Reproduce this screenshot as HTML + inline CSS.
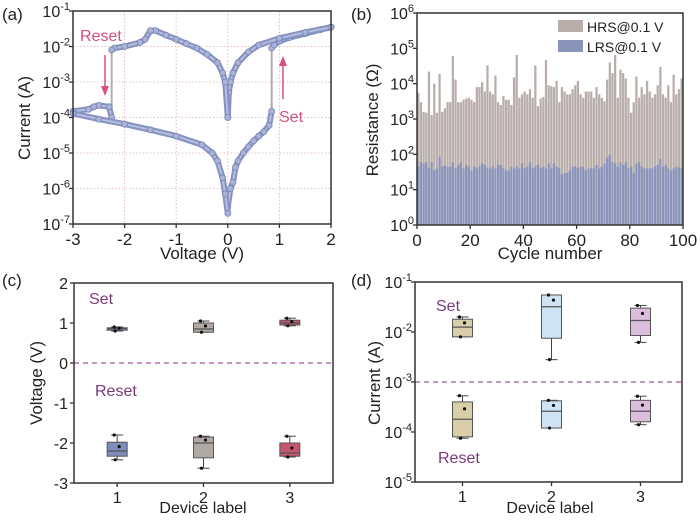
<!DOCTYPE html>
<html><head><meta charset="utf-8"><style>
html,body{margin:0;padding:0;background:#fff;}
svg{display:block;font-family:"Liberation Sans",sans-serif;}
</style></head><body>
<svg id="fig" width="700" height="520" viewBox="0 0 700 520" xmlns="http://www.w3.org/2000/svg"></svg>
<script>
// ---------- Panel (a) data ----------
const aSeg1V=[0.0,0.05,0.1,0.15,0.2,0.3,0.4,0.5,0.6,0.7,0.8,0.85];
const aSeg1I=[3e-7,1e-6,1.5e-6,4e-6,6e-6,1e-5,1.5e-5,2.2e-5,3e-5,4e-5,6e-5,1.5e-4];
const aSeg2V=[0.85,0.9,1.0,1.2,1.5,1.8,2.0];
const aSeg2I=[9e-3,1.1e-2,1.4e-2,1.8e-2,2.3e-2,3e-2,3.5e-2];
const aSeg3V=[2.0,1.5,1.0,0.6,0.4,0.2,0.1,0.05,0.02,0.0];
const aSeg3I=[3.5e-2,2.5e-2,1.7e-2,1.1e-2,7e-3,3.5e-3,1.8e-3,1e-3,5e-4,1e-4];
const aSeg4V=[0.0,-0.05,-0.1,-0.2,-0.4,-0.6,-0.8,-1.0,-1.2,-1.4,-1.5,-1.6,-1.7,-2.0,-2.2,-2.25];
const aSeg4I=[1e-4,1e-3,1.8e-3,3.5e-3,6e-3,9e-3,1.2e-2,1.6e-2,2.1e-2,2.8e-2,2.8e-2,1.6e-2,1.3e-2,1e-2,9e-3,8e-3];
const aSeg5V=[-2.25,-2.3,-2.5,-2.6,-2.7,-3.0];
const aSeg5I=[1e-4,2e-4,2.2e-4,2e-4,1.7e-4,1.5e-4];
const aSeg6V=[-3.0,-2.5,-2.0,-1.5,-1.0,-0.5,-0.3,-0.2,-0.1,-0.05,0.0];
const aSeg6I=[1.3e-4,9e-5,6.5e-5,4.5e-5,3e-5,1.7e-5,1e-5,6e-6,2e-6,7e-7,2e-7];
const aXTicks=[-3,-2,-1,0,1,2];
const aYExp=[-1,-2,-3,-4,-5,-6,-7];
// ---------- Panel (b) data ----------
const bHRS=[5500,3000,1600,1500,22000,1300,10000,1500,19000,1600,2000,3000,3000,60000,13000,3000,3000,3500,3800,4000,3500,3000,8000,8000,11000,6000,33000,6000,5000,17000,3000,2500,4500,3500,3500,2500,15000,65000,4000,5000,6000,5000,7000,4000,33000,2300,3800,4200,47000,9000,8500,8000,12000,3000,8000,6000,5000,5000,7000,9000,12000,5000,4000,6000,6000,6000,4000,8000,5000,4000,3200,13000,40000,20000,65000,4000,25000,20000,14000,4000,1500,3000,16000,4000,8000,5000,12000,6000,4000,5000,9000,30000,5000,4000,9000,3000,18000,5000,7000,14000];
const bLRS=[45,60,55,60,40,60,35,40,85,45,48,45,45,60,40,50,60,40,50,45,35,45,40,45,55,50,42,40,45,40,50,50,40,35,35,45,40,45,40,55,40,45,60,40,45,50,40,45,40,55,40,55,45,40,27,30,30,35,45,45,40,45,45,35,40,40,40,50,40,45,55,80,95,60,55,45,60,50,60,40,45,30,55,60,45,40,40,40,40,45,50,75,45,50,40,35,40,45,42,40];
const bXTicks=[0,20,40,60,80,100];
const bYExp=[0,1,2,3,4,5,6];
// ---------- Panel (c) data ----------
const cDevices=[1,2,3];
const cSetQ1=[0.82,0.77,0.95], cSetMed=[0.86,0.85,1.0], cSetQ3=[0.88,1.0,1.07], cSetLo=[0.8,0.77,0.93], cSetHi=[0.9,1.05,1.12];
const cResQ1=[-2.33,-2.37,-2.33], cResMed=[-2.2,-2.0,-2.25], cResQ3=[-1.98,-1.85,-2.0], cResLo=[-2.42,-2.63,-2.35], cResHi=[-1.8,-1.83,-1.83];
const cYTicks=[2,1,0,-1,-2,-3];
// ---------- Panel (d) data ----------
const dSetQ1=[8e-3,7.5e-3,8.5e-3], dSetMed=[1.25e-2,3.2e-2,1.7e-2], dSetQ3=[1.8e-2,5.5e-2,3e-2], dSetLo=[8e-3,2.8e-3,6.2e-3], dSetHi=[2e-2,5.5e-2,3.4e-2];
const dResQ1=[8e-5,1.2e-4,1.6e-4], dResMed=[1.8e-4,2.6e-4,2.6e-4], dResQ3=[4e-4,4.2e-4,4.3e-4], dResLo=[7.5e-5,1.2e-4,1.4e-4], dResHi=[5.3e-4,4.3e-4,5.2e-4];
const dYExp=[-1,-2,-3,-4,-5];

const NS="http://www.w3.org/2000/svg";
const svg=document.getElementById('fig');
function mk(tag,attrs,parent){const e=document.createElementNS(NS,tag);for(const k in attrs)e.setAttribute(k,attrs[k]);(parent||svg).appendChild(e);return e;}
function txt(s,x,y,size,anchor,parent,fill){const t=mk('text',{x:x,y:y,'font-size':size,'text-anchor':anchor||'middle',fill:fill||'#222'},parent);t.textContent=s;return t;}
function pow10(exp,x,y,parent){const t=mk('text',{x:x,y:y,'font-size':16,'text-anchor':'end',fill:'#222'},parent);const a=mk('tspan',{},t);a.textContent='10';const b=mk('tspan',{'font-size':11,dy:-7},t);b.textContent=String(exp);return t;}
const C='#333';

// ===== Panel a =====
const ga=mk('g',{});


const aL=73,aR=331,aT=11,aB=224;
const ax=v=>aL+(v+3)/5*(aR-aL);
const ay=i=>aT+(-1-Math.log10(i))/6*(aB-aT);
aXTicks.forEach(v=>{if(v>-3&&v<2){const l=mk('line',{x1:ax(v),x2:ax(v),y1:aT,y2:aB,stroke:'#d9b0b8','stroke-dasharray':'1.5,2','stroke-width':0.8},ga);}});
aYExp.forEach(e=>{if(e<-1&&e>-7){const l=mk('line',{x1:aL,x2:aR,y1:ay(Math.pow(10,e)),y2:ay(Math.pow(10,e)),stroke:'#d9b0b8','stroke-dasharray':'1.5,2','stroke-width':0.8},ga);}});
[[aSeg1V,aSeg1I,aSeg2V,aSeg2I],[aSeg4V,aSeg4I,aSeg5V,aSeg5I],[aSeg3V,aSeg3I,aSeg4V,aSeg4I]].forEach(p=>{const v1=p[0][p[0].length-1],i1=p[1][p[1].length-1],v2=p[2][0],i2=p[3][0];const l=mk('line',{x1:ax(v1),y1:ay(i1),x2:ax(v2),y2:ay(i2),stroke:'#b8aaa6','stroke-width':2},ga);});
[[aSeg1V,aSeg1I],[aSeg2V,aSeg2I],[aSeg3V,aSeg3I],[aSeg4V,aSeg4I],[aSeg5V,aSeg5I],[aSeg6V,aSeg6I]].forEach((s,k)=>{
  const d=s[0].map((v,i)=>(i?'L':'M')+ax(v).toFixed(1)+','+ay(s[1][i]).toFixed(1)).join(' ');
  const p=mk('path',{d:d,fill:'none',stroke:'#8592c2','stroke-width':6,'stroke-linejoin':'round','stroke-linecap':'round'},ga);
  
  const p2=mk('path',{d:d,fill:'none',stroke:'#b6bedc','stroke-width':2},ga);
  
  s[0].forEach((v,i)=>{const c=mk('circle',{cx:ax(v),cy:ay(s[1][i]),r:3,fill:'#aab3d6',stroke:'#7684b8','stroke-width':0.8},ga);});
});
mk('rect',{x:aL,y:aT,width:aR-aL,height:aB-aT,fill:'none',stroke:C,'stroke-width':1.5},ga);
aXTicks.forEach(v=>{mk('line',{x1:ax(v),x2:ax(v),y1:aB,y2:aB+4,stroke:C,'stroke-width':1.3},ga);txt(String(v),ax(v),aB+21,17,'middle',ga);});
aYExp.forEach(e=>{const y=ay(Math.pow(10,e));mk('line',{x1:aL-4,x2:aL,y1:y,y2:y,stroke:C,'stroke-width':1.3},ga);pow10(e,aL-3,y+6,ga);});
txt('Voltage (V)',202,259,17,'middle',ga);
const at=txt('Current (A)',0,0,17,'middle',ga);at.setAttribute('transform','translate(30,118) rotate(-90)');
txt('(a)',2,20,17,'start',ga);
txt('Reset',80,41,16,'start',ga,'#d9507a');
mk('line',{x1:105,y1:55,x2:105,y2:88,stroke:'#d9507a','stroke-width':1.5},ga);mk('path',{d:'M101,86 L105,96 L109,86 Z',fill:'#d9507a'},ga);
txt('Set',279,122,16,'start',ga,'#d9507a');
mk('line',{x1:283,y1:99,x2:283,y2:64,stroke:'#d9507a','stroke-width':1.5},ga);mk('path',{d:'M279,66 L283,56 L287,66 Z',fill:'#d9507a'},ga);

// ===== Panel b =====
const gb=mk('g',{});


const bL=417,bR=683,bT=13,bB=225;
const bx=c=>bL+c/100*(bR-bL);
const by=r=>bB-Math.log10(r)/6*(bB-bT);
const bw=(bR-bL)/100*0.85;
bHRS.forEach((r,i)=>{const b=mk('rect',{x:bx(i)-bw/2+1.3,y:by(r),width:bw,height:bB-by(r),fill:'#b9aeab'},gb);});
bLRS.forEach((r,i)=>{const b=mk('rect',{x:bx(i)-bw/2+1.3,y:by(r),width:bw,height:bB-by(r),fill:'#8a94bb'},gb);});
mk('rect',{x:bL,y:bT,width:bR-bL,height:bB-bT,fill:'none',stroke:C,'stroke-width':1.5},gb);
bXTicks.forEach(v=>{mk('line',{x1:bx(v),x2:bx(v),y1:bB,y2:bB+4,stroke:C,'stroke-width':1.3},gb);txt(String(v),bx(v),bB+21,17,'middle',gb);});
bYExp.forEach(e=>{const y=by(Math.pow(10,e));mk('line',{x1:bL-4,x2:bL,y1:y,y2:y,stroke:C,'stroke-width':1.3},gb);pow10(e,bL-3,y+6,gb);});
txt('Cycle number',550,259,17,'middle',gb);
const bt=txt('Resistance (Ω)',0,0,17,'middle',gb);bt.setAttribute('transform','translate(378,120) rotate(-90)');
txt('(b)',351,20,17,'start',gb);
const lg=mk('g',{},gb);
mk('rect',{x:558,y:20,width:25,height:12,fill:'#b9aeab'},lg);txt('HRS@0.1 V',587,32,14,'start',lg);
mk('rect',{x:558,y:40,width:25,height:12,fill:'#8a94bb'},lg);txt('LRS@0.1 V',587,52,14,'start',lg);

function boxes(g,xf,yf,q1,med,q3,lo,hi,fill,name){
  cDevices.forEach((d,i)=>{const x=xf(d),w=20;const bg=mk('g',{},g);
    mk('line',{x1:x,x2:x,y1:yf(hi[i]),y2:yf(lo[i]),stroke:'#444','stroke-width':1},bg);
    mk('line',{x1:x-6,x2:x+6,y1:yf(hi[i]),y2:yf(hi[i]),stroke:'#444','stroke-width':1},bg);
    mk('line',{x1:x-6,x2:x+6,y1:yf(lo[i]),y2:yf(lo[i]),stroke:'#444','stroke-width':1},bg);
    mk('rect',{x:x-w/2,y:yf(q3[i]),width:w,height:Math.max(1,yf(q1[i])-yf(q3[i])),fill:fill[i],stroke:'#555','stroke-width':1},bg);
    mk('line',{x1:x-w/2,x2:x+w/2,y1:yf(med[i]),y2:yf(med[i]),stroke:'#555','stroke-width':1.2},bg);
    [hi[i],lo[i]].forEach((v,k)=>mk('circle',{cx:x+(k?-2:-3),cy:yf(v),r:1.6,fill:'#111'},bg));
    mk('circle',{cx:x+2,cy:yf((q3[i]+med[i])/2),r:1.6,fill:'#111'},bg);
  });
}
// ===== Panel c =====
const gc=mk('g',{});


const cL=74,cR=333,cT=283,cB=483;
const cx=d=>cL+(d-0.5)/3*(cR-cL);
const cy=v=>cT+(2-v)/5*(cB-cT);
mk('line',{x1:cL,x2:cR,y1:cy(0),y2:cy(0),stroke:'#9a5a9a','stroke-width':1.3,'stroke-dasharray':'5,4'},gc);
boxes(gc,cx,cy,cSetQ1,cSetMed,cSetQ3,cSetLo,cSetHi,['#7f8dbd','#b2a9a5','#c9546f'],'set-box');
boxes(gc,cx,cy,cResQ1,cResMed,cResQ3,cResLo,cResHi,['#7f8dbd','#b2a9a5','#c9546f'],'reset-box');
mk('rect',{x:cL,y:cT,width:cR-cL,height:cB-cT,fill:'none',stroke:C,'stroke-width':1.5},gc);
cDevices.forEach(d=>{mk('line',{x1:cx(d),x2:cx(d),y1:cB,y2:cB+4,stroke:C,'stroke-width':1.3},gc);txt(String(d),cx(d),cB+20,16,'middle',gc);});
cYTicks.forEach(v=>{mk('line',{x1:cL-4,x2:cL,y1:cy(v),y2:cy(v),stroke:C,'stroke-width':1.3},gc);txt(String(v),cL-6,cy(v)+6,16,'end',gc);});
txt('Device label',203,513,16,'middle',gc);
const ct=txt('Voltage (V)',0,0,17,'middle',gc);ct.setAttribute('transform','translate(42,383) rotate(-90)');
txt('(c)',2,286,17,'start',gc);
txt('Set',89,304,16,'start',gc,'#7a3a7a');txt('Reset',95,396,16,'start',gc,'#7a3a7a');

// ===== Panel d =====
const gd=mk('g',{});


const dL=415,dR=682,dT=282,dB=482;
const dx=d=>dL+(d-0.5)/3*(dR-dL)+3;
const dy=i=>dT+(-1-Math.log10(i))/4*(dB-dT);
mk('line',{x1:dL,x2:dR,y1:dy(1e-3),y2:dy(1e-3),stroke:'#9a5a9a','stroke-width':1.3,'stroke-dasharray':'5,4'},gd);
const dcols=['#d8cfa9','#cfe3f4','#dbbedc'];
boxes(gd,dx,v=>dy(v),dSetQ1,dSetMed,dSetQ3,dSetLo,dSetHi,dcols,'set-current-box');
boxes(gd,dx,v=>dy(v),dResQ1,dResMed,dResQ3,dResLo,dResHi,dcols,'reset-current-box');
mk('rect',{x:dL,y:dT,width:dR-dL,height:dB-dT,fill:'none',stroke:C,'stroke-width':1.5},gd);
cDevices.forEach(d=>{mk('line',{x1:dx(d),x2:dx(d),y1:dB,y2:dB+4,stroke:C,'stroke-width':1.3},gd);txt(String(d),dx(d),dB+20,16,'middle',gd);});
dYExp.forEach(e=>{const y=dy(Math.pow(10,e));mk('line',{x1:dL-4,x2:dL,y1:y,y2:y,stroke:C,'stroke-width':1.3},gd);pow10(e,dL-3,y+6,gd);});
txt('Device label',550,513,16,'middle',gd);
const dt=txt('Current (A)',0,0,17,'middle',gd);dt.setAttribute('transform','translate(380,383) rotate(-90)');
txt('(d)',351,286,17,'start',gd);
txt('Set',436,311,16,'start',gd,'#7a3a7a');txt('Reset',438,463,16,'start',gd,'#7a3a7a');
</script>
</body></html>
